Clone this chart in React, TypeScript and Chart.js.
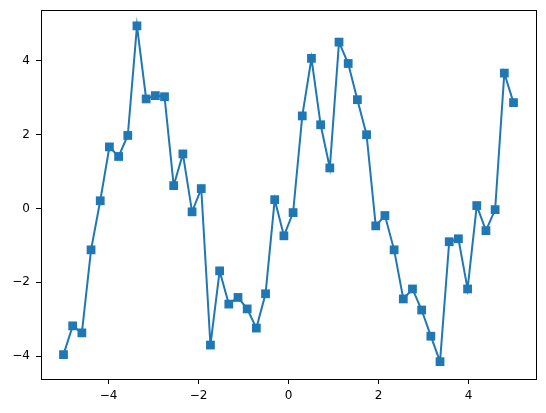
import React, { useEffect, useRef } from "react";
import { Chart, registerables } from "chart.js";

Chart.register(...registerables);

const xValues: number[] = Array.from({ length: 50 }, (_, i) => -5 + (10 * i) / 49);
const yValues: number[] = [
  -3.96, -3.18, -3.37, -1.12, 0.21, 1.67, 1.41, 1.98, 4.95, 2.97,
  3.06, 3.03, 0.62, 1.48, -0.09, 0.54, -3.7, -1.69, -2.59, -2.41,
  -2.72, -3.24, -2.31, 0.24, -0.74, -0.11, 2.51, 4.07, 2.27, 1.1,
  4.51, 3.93, 2.95, 2.0, -0.47, -0.19, -1.12, -2.45, -2.18, -2.75,
  -3.46, -4.15, -0.9, -0.82, -2.18, 0.08, -0.6, -0.03, 3.67, 2.87,
];
const xTicks: number[] = [-4, -2, 0, 2, 4];
const yTicks: number[] = [-4, -2, 0, 2, 4];

const fmt = (v: number) => (v < 0 ? "\u2212" + Math.abs(v) : String(v));

const framePlugin = {
  id: "frame",
  afterDraw(chart: any) {
    const { ctx, chartArea } = chart;
    ctx.save();
    ctx.strokeStyle = "#000";
    ctx.lineWidth = 1;
    ctx.strokeRect(
      Math.round(chartArea.left) + 0.5,
      Math.round(chartArea.top) + 0.5,
      Math.round(chartArea.right - chartArea.left),
      Math.round(chartArea.bottom - chartArea.top)
    );
    ctx.restore();
  },
};

export default function App() {
  const ref = useRef<HTMLCanvasElement | null>(null);
  useEffect(() => {
    document.body.style.margin = "0";
    const canvas = ref.current!;
    const chart = new Chart(canvas, {
      type: "line",
      data: {
        datasets: [
          {
            data: xValues.map((x, i) => ({ x, y: yValues[i] })),
            borderColor: "#1f77b4",
            backgroundColor: "#1f77b4",
            borderWidth: 2,
            pointStyle: "rect",
            pointRadius: 6.2,
            pointBorderWidth: 0,
            pointBackgroundColor: "#1f77b4",
            tension: 0,
          },
        ],
      },
      options: {
        animation: false,
        responsive: false,
        devicePixelRatio: 1,
        layout: { padding: { top: 10, right: 10, left: 0, bottom: 0 } },
        plugins: { legend: { display: false }, tooltip: { enabled: false } },
        scales: {
          x: {
            type: "linear",
            min: -5.5,
            max: 5.5,
            afterBuildTicks: (s: any) => {
              s.ticks = xTicks.map((v) => ({ value: v }));
            },
            afterFit: (s: any) => {
              s.height = 34;
              s.paddingLeft = 0;
              s.paddingRight = 0;
            },
            grid: { drawOnChartArea: false, drawTicks: true, tickLength: 5, color: "#000" },
            border: { display: true, color: "#000", width: 1 },
            ticks: {
              color: "#000",
              padding: 5,
              maxRotation: 0,
              font: { family: "DejaVu Sans", size: 12 },
              callback: (v: any) => fmt(Number(v)),
            },
          },
          y: {
            type: "linear",
            min: -4.62,
            max: 5.38,
            afterBuildTicks: (s: any) => {
              s.ticks = yTicks.map((v) => ({ value: v }));
            },
            afterFit: (s: any) => {
              s.width = 41;
              s.paddingTop = 0;
              s.paddingBottom = 0;
            },
            grid: { drawOnChartArea: false, drawTicks: true, tickLength: 5, color: "#000" },
            border: { display: true, color: "#000", width: 1 },
            ticks: {
              color: "#000",
              padding: 6,
              font: { family: "DejaVu Sans", size: 12 },
              callback: (v: any) => fmt(Number(v)),
            },
          },
        },
      },
      plugins: [framePlugin],
    });
    return () => chart.destroy();
  }, []);
  return (
    <div style={{ width: 546, height: 413 }}>
      <canvas ref={ref} width={546} height={413} style={{ width: 546, height: 413, display: "block" }} />
    </div>
  );
}
